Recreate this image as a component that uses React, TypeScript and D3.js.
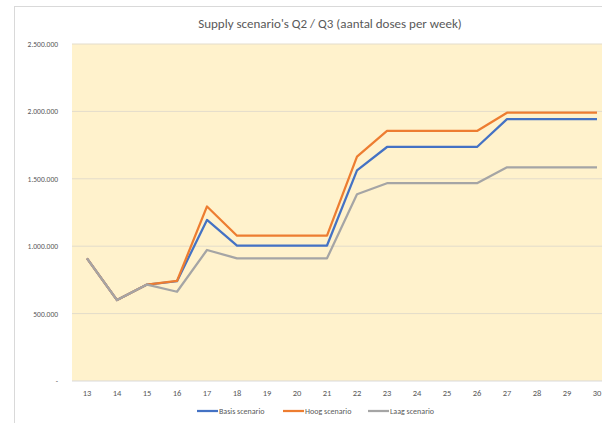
import React from "react";
import * as d3 from "d3";

const weeks = [13, 14, 15, 16, 17, 18, 19, 20, 21, 22, 23, 24, 25, 26, 27, 28, 29, 30];
const basis = [910000, 600000, 715000, 740000, 1195000, 1005000, 1005000, 1005000, 1005000, 1563000, 1736000, 1736000, 1736000, 1736000, 1943000, 1943000, 1943000, 1943000];
const hoog = [910000, 600000, 715000, 742000, 1295000, 1078000, 1078000, 1078000, 1078000, 1664000, 1855000, 1855000, 1855000, 1855000, 1990000, 1990000, 1990000, 1990000];
const laag = [910000, 600000, 715000, 662000, 972000, 910000, 910000, 910000, 910000, 1385000, 1467000, 1467000, 1467000, 1467000, 1585000, 1585000, 1585000, 1585000];
const yTicks = [0, 500000, 1000000, 1500000, 2000000, 2500000];
const seriesNames = ["Basis scenario", "Hoog scenario", "Laag scenario"];
const colors = ["#4472c4", "#ed7d31", "#a5a5a5"];
const title = "Supply scenario's Q2 / Q3 (aantal doses per week)";

const fmt = (v: number) => (v === 0 ? "-" : d3.format(",")(v).replace(/,/g, "."));

export default function App() {
  const W = 602, H = 423;
  const left = 72, right = 612, top = 44, bottom = 381;
  const x = d3.scaleBand<number>().domain(weeks).range([left, right]);
  const y = d3.scaleLinear().domain([0, 2500000]).range([bottom, top]);
  const cx = (w: number) => (x(w) as number) + x.bandwidth() / 2;
  const line = d3.line<number>().x((_, i) => cx(weeks[i])).y((v) => y(v));
  const data = [basis, hoog, laag];
  const legendX = [197, 283, 368];
  const font = "Carlito, 'Open Sans', 'Liberation Sans', sans-serif";

  return (
    <svg width={W} height={H} style={{ position: "absolute", left: 0, top: 0 }} fontFamily={font}>
      <rect x={0} y={0} width={W} height={H} fill="#ffffff" />
      <rect x={14.5} y={6.5} width={700} height={500} fill="#ffffff" stroke="#d9d9d9" />
      <text x={330} y={28} textAnchor="middle" fontSize={13} fill="#595959">{title}</text>
      <rect x={left} y={top} width={right - left} height={bottom - top} fill="#fff2cc" />
      {yTicks.slice(1).map((t) => (
        <line key={t} x1={left} x2={right} y1={y(t)} y2={y(t)} stroke="#e3dccb" strokeWidth={1} />
      ))}
      <line x1={left} x2={right} y1={bottom} y2={bottom} stroke="#d9d9d9" strokeWidth={1} />
      {yTicks.map((t) => (
        <text key={t} x={58} y={y(t) + 3} textAnchor="end" fontSize={7.5} fill="#595959">{fmt(t)}</text>
      ))}
      {weeks.map((w) => (
        <text key={w} x={cx(w)} y={396} textAnchor="middle" fontSize={8.5} fill="#595959">{w}</text>
      ))}
      {data.map((d, i) => (
        <path key={i} d={line(d) || ""} fill="none" stroke={colors[i]} strokeWidth={2.25} strokeLinejoin="round" />
      ))}
      {seriesNames.map((n, i) => (
        <g key={n}>
          <line x1={legendX[i]} x2={legendX[i] + 21} y1={411} y2={411} stroke={colors[i]} strokeWidth={2.25} />
          <text x={legendX[i] + 22} y={414} fontSize={8} fill="#595959">{n}</text>
        </g>
      ))}
    </svg>
  );
}
